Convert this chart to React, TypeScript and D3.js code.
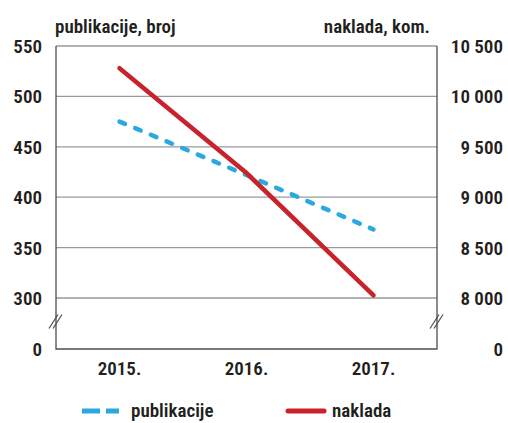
// @ts-nocheck
import React, { useEffect, useRef } from 'react';
import * as d3 from 'd3';

const years = ['2015.', '2016.', '2017.'];
const publikacije = [475, 422, 368];
const naklada = [10280, 9240, 8025];
const leftTicks = [0, 300, 350, 400, 450, 500, 550];
const rightTicks = [0, 8000, 8500, 9000, 9500, 10000, 10500];
const leftTitle = 'publikacije, broj';
const rightTitle = 'naklada, kom.';
const legendLabels = ['publikacije', 'naklada'];

const W = 508;
const H = 423;
const BLUE = '#2aa9e0';
const RED = '#c8232c';
const INK = '#231f20';
const FONT = "'Liberation Sans Narrow', 'Roboto Condensed', Roboto, 'Liberation Sans', sans-serif";
const FS = '600 19px';

const App: React.FC = () => {
  const ref = useRef<SVGSVGElement | null>(null);

  useEffect(() => {
    const svg = d3.select(ref.current);
    svg.selectAll('*').remove();

    const left = 56, right = 437, top = 46, bottom = 349, breakY = 298;

    // x skala - godine
    const x = d3.scalePoint().domain(years).range([left, right]).padding(0.5);
    // os s prekidom: 0 na dnu, 300 / 8000 iznad prekida
    const yL = d3.scaleLinear().domain([0, 300, 550]).range([bottom, breakY, top]);
    const yR = d3.scaleLinear().domain([0, 8000, 10500]).range([bottom, breakY, top]);

    const g = svg.append('g');

    // mreža
    g.selectAll('line.grid')
      .data(leftTicks.filter((d) => d > 0))
      .enter()
      .append('line')
      .attr('x1', left)
      .attr('x2', right)
      .attr('y1', (d) => yL(d))
      .attr('y2', (d) => yL(d))
      .attr('stroke', '#9a9a9a')
      .attr('stroke-width', 1.3);

    // osi
    g.append('path')
      .attr('d', `M${left},${top}V${bottom}H${right}V${top}`)
      .attr('fill', 'none')
      .attr('stroke', '#4d4d4d')
      .attr('stroke-width', 1.3);

    // oznake prekida
    const breakMid = (yL(0) + yL(300)) / 2 - 2;
    [left, right].forEach((ax) => {
      [-2, 2].forEach((o) => {
        g.append('line')
          .attr('x1', ax - 5 + o)
          .attr('x2', ax + 4 + o)
          .attr('y1', breakMid + 7)
          .attr('y2', breakMid - 7)
          .attr('stroke', '#4d4d4d')
          .attr('stroke-width', 1.2);
      });
    });

    // oznake lijeve osi
    g.selectAll('text.yl')
      .data(leftTicks)
      .enter()
      .append('text')
      .attr('x', 42)
      .attr('y', (d) => yL(d))
      .attr('dy', '0.37em')
      .attr('text-anchor', 'end')
      .style('font', `${FS} ${FONT}`)
      .style('fill', INK)
      .text((d) => d);

    // oznake desne osi
    const fmt = (v) => (v >= 1000 ? d3.format(',')(v).replace(/,/g, ' ') : String(v));
    g.selectAll('text.yr')
      .data(rightTicks)
      .enter()
      .append('text')
      .attr('x', 503)
      .attr('y', (d) => yR(d))
      .attr('dy', '0.37em')
      .attr('text-anchor', 'end')
      .style('font', `${FS} ${FONT}`)
      .style('fill', INK)
      .text((d) => fmt(d));

    // oznake x osi
    g.selectAll('text.x')
      .data(years)
      .enter()
      .append('text')
      .attr('x', (d) => x(d))
      .attr('y', 375)
      .attr('text-anchor', 'middle')
      .style('font', `${FS} ${FONT}`)
      .style('fill', INK)
      .text((d) => d);

    // naslovi osi
    g.append('text')
      .attr('x', 55)
      .attr('y', 33)
      .style('font', `${FS} ${FONT}`)
      .style('fill', INK)
      .text(leftTitle);
    g.append('text')
      .attr('x', 430)
      .attr('y', 33)
      .attr('text-anchor', 'end')
      .style('font', `${FS} ${FONT}`)
      .style('fill', INK)
      .text(rightTitle);

    // linije
    const lineL = d3.line().x((d, i) => x(years[i])).y((d) => yL(d));
    const lineR = d3.line().x((d, i) => x(years[i])).y((d) => yR(d));

    g.append('path')
      .attr('d', lineL(publikacije))
      .attr('fill', 'none')
      .attr('stroke', BLUE)
      .attr('stroke-width', 4.5)
      .attr('stroke-linecap', 'round')
      .attr('stroke-dasharray', '6 11');

    g.append('path')
      .attr('d', lineR(naklada))
      .attr('fill', 'none')
      .attr('stroke', RED)
      .attr('stroke-width', 4.5)
      .attr('stroke-linecap', 'round');

    // legenda
    const ly = 411;
    g.append('line')
      .attr('x1', 82).attr('x2', 119).attr('y1', ly).attr('y2', ly)
      .attr('stroke', BLUE)
      .attr('stroke-width', 5)
      .attr('stroke-dasharray', '18 6');
    g.append('text')
      .attr('x', 131)
      .attr('y', 417)
      .style('font', `${FS} ${FONT}`)
      .style('fill', INK)
      .text(legendLabels[0]);
    g.append('line')
      .attr('x1', 288).attr('x2', 324).attr('y1', ly).attr('y2', ly)
      .attr('stroke', RED)
      .attr('stroke-width', 5)
      .attr('stroke-linecap', 'round');
    g.append('text')
      .attr('x', 332)
      .attr('y', 417)
      .style('font', `${FS} ${FONT}`)
      .style('fill', INK)
      .text(legendLabels[1]);
  }, []);

  return (
    <svg
      ref={ref}
      width={W}
      height={H}
      style={{ position: 'absolute', left: 0, top: 0, background: '#fff' }}
    ></svg>
  );
};

export default App;
